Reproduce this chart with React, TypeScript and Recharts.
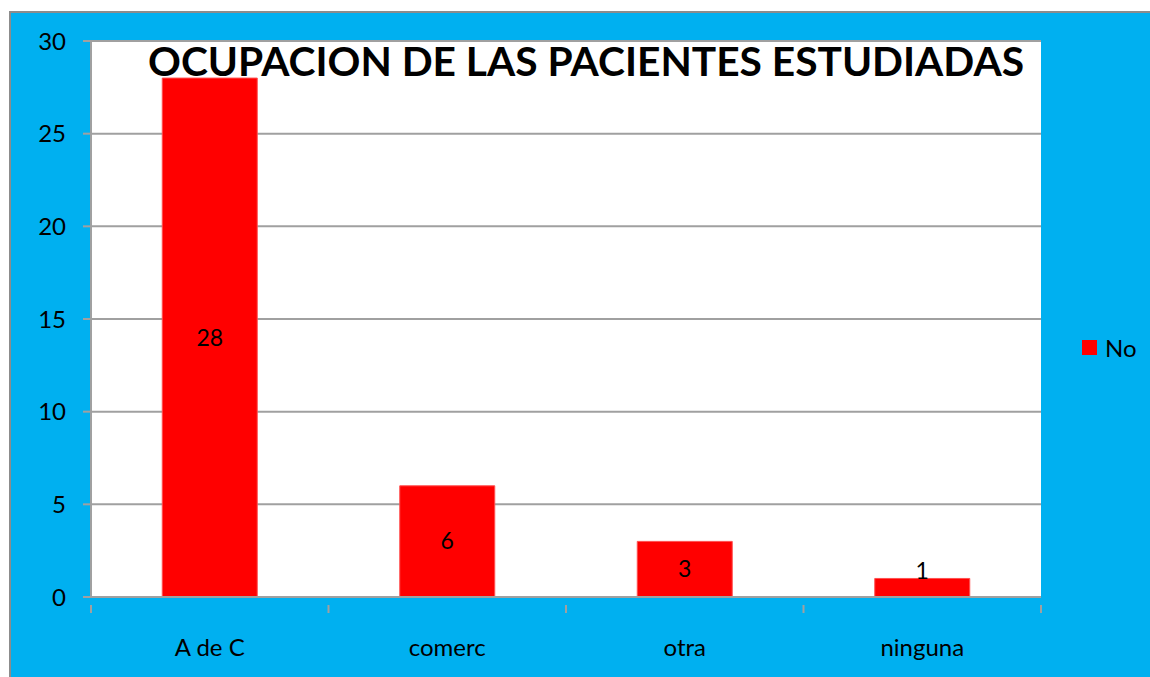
import React from "react";
import {
  BarChart,
  Bar,
  XAxis,
  YAxis,
  CartesianGrid,
  LabelList,
} from "recharts";

const categories = ["A de C", "comerc", "otra", "ninguna"];
const noValues = [28, 6, 3, 1];
const yTicks = [0, 5, 10, 15, 20, 25, 30];
const seriesName = "No";

const data = categories.map((name, i) => ({ name, No: noValues[i] }));

const BLUE = "#00B0F0";
const RED = "#FF0000";
const GRID = "#A0A0A0";
const FONT = "Lato, 'Open Sans', sans-serif";

const CHART_W = 1139;
const CHART_H = 664;
const PLOT_W = 950;
const BAND = PLOT_W / categories.length;

/** Category label plus the boundary tick marks Excel draws between bands. */
function CategoryTick(props: any) {
  const { x, y, payload, index } = props;
  const left = x - BAND / 2;
  return (
    <g>
      <line x1={left} x2={left} y1={y} y2={y + 8} stroke={GRID} strokeWidth={2} />
      {index === categories.length - 1 && (
        <line x1={x + BAND / 2} x2={x + BAND / 2} y1={y} y2={y + 8} stroke={GRID} strokeWidth={2} />
      )}
      <text x={x} y={y + 43} textAnchor="middle" dy="0.35em" fontSize={24} fontFamily={FONT} fill="#000">
        {payload.value}
      </text>
    </g>
  );
}

/** Value in the middle of the bar; lifted above when the bar is too short. */
function ValueLabel(props: any) {
  const { x, y, width, height, value } = props;
  const cy = height < 25 ? y - 8 : y + height / 2;
  return (
    <text x={x + width / 2} y={cy} textAnchor="middle" dy="0.35em" fontSize={23} fontFamily={FONT} fill="#000">
      {value}
    </text>
  );
}

export default function App() {
  return (
    <div
      style={{
        position: "fixed",
        left: 9,
        top: 11,
        width: CHART_W,
        height: CHART_H,
        background: BLUE,
        borderTop: "2px solid #8C8C8C",
        borderLeft: "2px solid #8C8C8C",
      }}
    >
      <BarChart
        width={CHART_W}
        height={CHART_H}
        data={data}
        margin={{ top: 28, right: 109, bottom: 40, left: 20 }}
        barCategoryGap="30%"
      >
        <CartesianGrid vertical={false} stroke={GRID} strokeWidth={2} fill="#FFFFFF" />
        <XAxis
          dataKey="name"
          height={40}
          axisLine={{ stroke: GRID, strokeWidth: 2 }}
          tickLine={false}
          tick={<CategoryTick />}
          interval={0}
        />
        <YAxis
          width={60}
          domain={[0, 30]}
          ticks={yTicks}
          axisLine={{ stroke: GRID, strokeWidth: 2 }}
          tickLine={{ stroke: GRID, strokeWidth: 2 }}
          tickSize={8}
          tickMargin={17}
          tick={{ fill: "#000", fontSize: 24, fontFamily: FONT }}
        />
        <Bar dataKey="No" fill={RED} stroke="#FF5050" strokeWidth={1} isAnimationActive={false}>
          <LabelList dataKey="No" content={<ValueLabel />} />
        </Bar>
      </BarChart>
      {/* legend */}
      <div
        style={{
          position: "absolute",
          left: 1071,
          top: 320,
          display: "flex",
          alignItems: "center",
          fontFamily: FONT,
          fontSize: 24,
        }}
      >
        <span style={{ width: 15, height: 15, background: RED, display: "inline-block", marginRight: 8 }} />
        <span>{seriesName}</span>
      </div>
      {/* title */}
      <svg
        width={CHART_W}
        height={80}
        style={{ position: "absolute", left: 0, top: 0, pointerEvents: "none" }}
      >
        <text
          x={575}
          y={49}
          dy="0.35em"
          textAnchor="middle"
          fontSize={40}
          fontWeight="bold"
          fontFamily={FONT}
          textLength={876}
          lengthAdjust="spacingAndGlyphs"
          fill="#000"
        >
          OCUPACION DE LAS PACIENTES ESTUDIADAS
        </text>
      </svg>
    </div>
  );
}
